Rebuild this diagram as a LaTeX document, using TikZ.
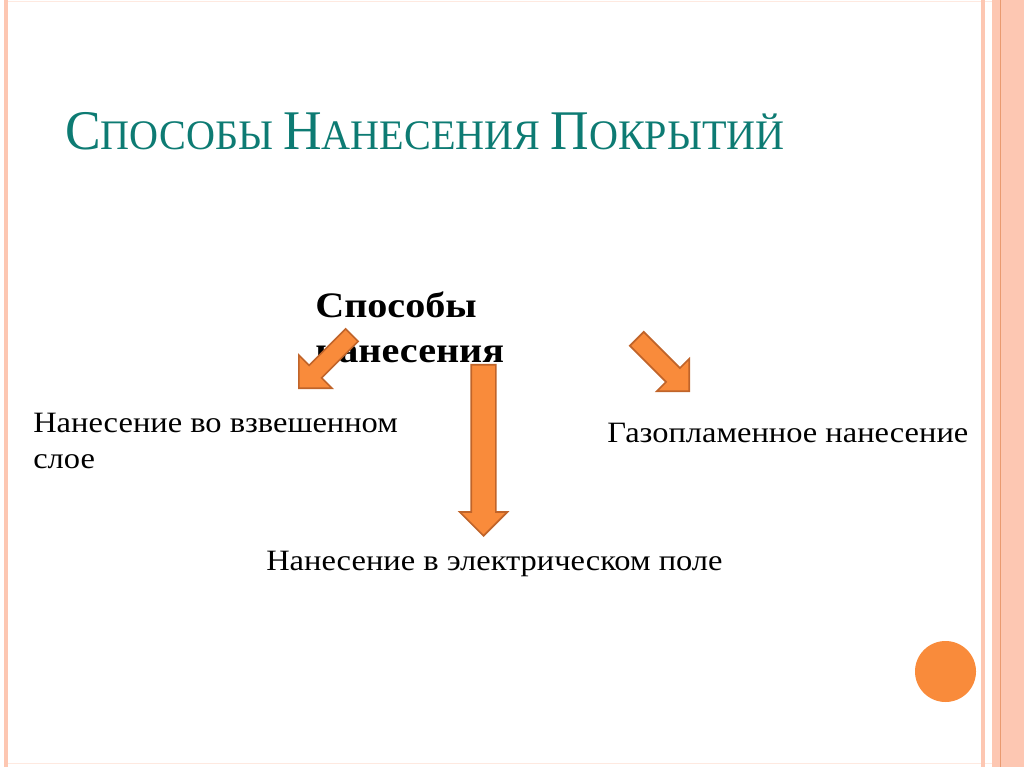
\documentclass[tikz,border=0pt]{standalone}
\usepackage{fontspec}
\setmainfont{Liberation Serif}
\usepackage{xcolor}
\usetikzlibrary{shapes.arrows}
\definecolor{teal}{HTML}{0D7B73}
\definecolor{arrfill}{HTML}{F98B3B}
\definecolor{arrdraw}{HTML}{C0642A}
\definecolor{stripe}{HTML}{FDC7B2}
\definecolor{stripedark}{HTML}{E99A70}
\newcommand{\titleword}[2]{{\fontsize{39.8pt}{40pt}\selectfont #1}#2}

\begin{document}
\begin{tikzpicture}[auto, x=0.025cm, y=-0.025cm]
    % Styles for texts and block arrows
    \tikzset{
      label/.style={anchor=base west, inner sep=0pt, align=left,
        font=\addfontfeatures{FakeStretch=1.1}\fontsize{21pt}{24.9pt}\selectfont},
      blockarrow/.style={single arrow, draw=arrdraw, fill=arrfill, line width=1.2pt, anchor=tip,
        inner sep=0pt, text height=0pt, text depth=0pt, single arrow tip angle=90}
    }
    \useasboundingbox (0,0) rectangle (1024,767);

    % Frame and stripes
    \draw[color=stripe!40, line width=0.5pt] (4,1) -- (1000,1);
    \draw[color=stripe!40, line width=0.5pt] (4,763) -- (1000,763);
    \fill[stripe] (4,0) rectangle (8,767);
    \fill[stripe] (981,0) rectangle (985,767);
    \fill[stripe] (992,0) rectangle (1024,767);
    \draw[stripedark, line width=0.7pt] (1000,0) -- (1000,767);

    % Title
    \node[anchor=base west, inner sep=0pt, text=teal] (title) at (65,150)
      {\addfontfeatures{FakeStretch=0.955}\fontsize{29.9pt}{30pt}\selectfont
       \titleword{С}{ПОСОБЫ} \titleword{Н}{АНЕСЕНИЯ} \titleword{П}{ОКРЫТИЙ}};

    % Texts (base of a two-line node is its last line)
    \node[label, font=\addfontfeatures{FakeStretch=1.12}\bfseries\fontsize{25.5pt}{31.3pt}\selectfont]
      (main) at (315,362) {Способы\\нанесения};
    \node[label] (layer) at (33,468) {Нанесение во взвешенном\\слое};
    \node[label] (flame) at (607,442) {Газопламенное нанесение};
    \node[label] (field) at (266,570) {Нанесение в электрическом поле};

    % Block arrows
    \node[blockarrow, minimum height=75*0.025cm, minimum width=1.125cm, inner ysep=0.2cm,
      single arrow head extend=0.3625cm, rotate=-135] (toLayer) at (298,389) {};
    \node[blockarrow, minimum height=171*0.025cm, minimum width=1.15cm, inner ysep=0.2875cm,
      single arrow head extend=0.2875cm, rotate=-90] (toField) at (483.5,537) {};
    \node[blockarrow, minimum height=74*0.025cm, minimum width=1.1cm, inner ysep=0.225cm,
      single arrow head extend=0.325cm, rotate=-45] (toFlame) at (690,392) {};

    % Circle
    \fill[arrfill] (945.5,671.5) circle (30.5);

\end{tikzpicture}
\end{document}
